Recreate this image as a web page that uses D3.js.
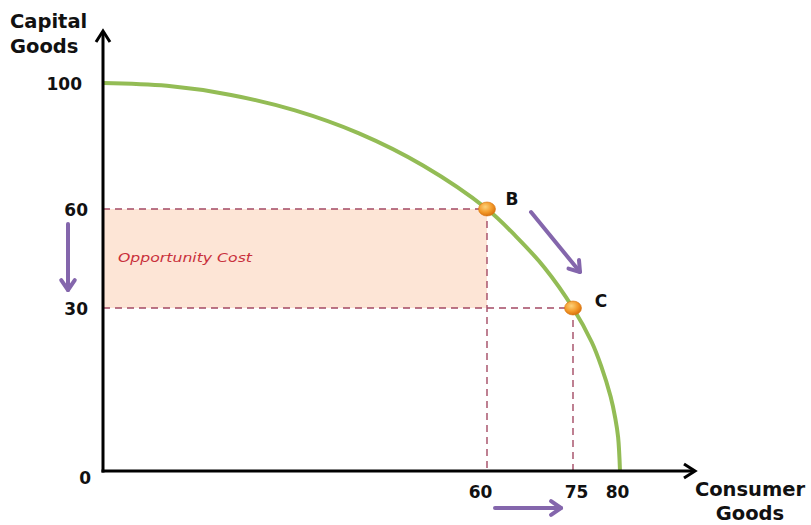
<!DOCTYPE html>
<html>
<head>
<meta charset="utf-8">
<script src="https://cdn.jsdelivr.net/npm/d3@7"></script>
<style>
  html, body { margin: 0; padding: 0; background: #fff; }
  svg { display: block; }
  .lbl { font-family: "DejaVu Sans", sans-serif; font-weight: 700; fill: #111; }
</style>
</head>
<body>
<svg id="chart" width="811" height="525"></svg>
<script>
// Production possibility frontier: consumer goods vs capital goods
const xTicks = [60, 75, 80];
const yTicks = [0, 30, 60, 100];
const frontierConsumer = [0, 10, 20, 30, 40, 50, 60, 65, 70, 75, 77, 78, 79, 79.5, 79.8, 80];
const frontierCapital  = [100, 99.1, 96.2, 91.3, 84.0, 73.8, 60, 51.8, 42.3, 30, 23.7, 19.3, 13.7, 9.7, 6.2, 0];
const pointNames = ["B", "C"];
const pointConsumer = [60, 75];
const pointCapital = [60, 30];
const yAxisTitle = ["Capital", "Goods"];
const xAxisTitle = ["Consumer", "Goods"];
const shadeLabel = "Opportunity Cost";

const svg = d3.select("#chart");

// Schematic (piecewise) scales
const x = d3.scaleLinear().domain([0, 60, 75, 80]).range([103, 487, 573, 620]);
const y = d3.scaleLinear().domain([0, 30, 60, 100]).range([471, 308, 209, 83]);
const x0 = x(0), y0 = y(0);

const defs = svg.append("defs");
const grad = defs.append("radialGradient").attr("id", "dot").attr("cx", "40%").attr("cy", "35%").attr("r", "65%");
grad.append("stop").attr("offset", "0%").attr("stop-color", "#fcd27a");
grad.append("stop").attr("offset", "60%").attr("stop-color", "#f39a2a");
grad.append("stop").attr("offset", "100%").attr("stop-color", "#d9730f");

// Opportunity cost band between the two points
svg.append("rect")
  .attr("x", x0).attr("y", y(pointCapital[0]))
  .attr("width", x(pointConsumer[0]) - x0)
  .attr("height", y(pointCapital[1]) - y(pointCapital[0]))
  .attr("fill", "#fde5d6");

svg.append("text")
  .attr("x", x0 + 15).attr("y", (y(pointCapital[0]) + y(pointCapital[1])) / 2 + 3)
  .attr("font-family", "'DejaVu Sans', sans-serif")
  .attr("font-style", "italic")
  .attr("font-size", 12)
  .attr("fill", "#c9303c")
  .attr("textLength", 134)
  .attr("lengthAdjust", "spacingAndGlyphs")
  .text(shadeLabel);

// Dashed guides to the axes
const guides = svg.append("g").attr("stroke", "#a44a64").attr("stroke-width", 1.4).attr("stroke-dasharray", "7,5");
pointConsumer.forEach((c, i) => {
  guides.append("line").attr("x1", x0).attr("x2", x(c)).attr("y1", y(pointCapital[i])).attr("y2", y(pointCapital[i]));
  guides.append("line").attr("x1", x(c)).attr("x2", x(c)).attr("y1", y(pointCapital[i])).attr("y2", y0);
});

// Frontier curve
const frontier = frontierConsumer.map((c, i) => [c, frontierCapital[i]]);
svg.append("path")
  .datum(frontier)
  .attr("fill", "none")
  .attr("stroke", "#93bc55")
  .attr("stroke-width", 4)
  .attr("d", d3.line().x(d => x(d[0])).y(d => y(d[1])).curve(d3.curveCatmullRom.alpha(0.5)));

// Axes with arrow heads
const axes = svg.append("g").attr("stroke", "#000").attr("fill", "none").attr("stroke-width", 3);
axes.append("line").attr("x1", x0).attr("x2", x0).attr("y1", y0 + 1.5).attr("y2", 32);
axes.append("line").attr("x1", x0 - 1.5).attr("x2", 694).attr("y1", y0).attr("y2", y0);
axes.append("path").attr("d", `M${x0 - 7},${42} L${x0},${31} L${x0 + 7},${42}`).attr("stroke-linejoin", "miter");
axes.append("path").attr("d", `M${684},${y0 - 7} L${695},${y0} L${684},${y0 + 7}`).attr("stroke-linejoin", "miter");

// Tick labels
const yShift = { 0: "translate(3,6)", 100: "translate(-6,0)" };
const yAxis = svg.append("g").attr("transform", `translate(${x0 - 15},0)`)
  .call(d3.axisLeft(y).tickValues(yTicks).tickSize(0).tickPadding(0));
yAxis.select(".domain").remove();
yAxis.selectAll("text").attr("class", "lbl").attr("font-size", 17).attr("dy", "0.36em")
  .attr("transform", d => yShift[d] || null);

const xShift = { 60: -7, 75: 3, 80: -3 };
const xAxis = svg.append("g").attr("transform", `translate(0,${y0 + 27})`)
  .call(d3.axisBottom(x).tickValues(xTicks).tickSize(0).tickPadding(0));
xAxis.select(".domain").remove();
xAxis.selectAll("text").attr("class", "lbl").attr("font-size", 17).attr("dy", 0)
  .attr("transform", d => `translate(${xShift[d] || 0},0)`);

// Axis titles
svg.append("text").attr("class", "lbl").attr("font-size", 19.5)
  .selectAll("tspan").data(yAxisTitle).join("tspan")
  .attr("x", 10).attr("y", (d, i) => 28 + i * 25).text(d => d);
svg.append("text").attr("class", "lbl").attr("font-size", 19.5).attr("text-anchor", "middle")
  .selectAll("tspan").data(xAxisTitle).join("tspan")
  .attr("x", 750).attr("y", (d, i) => 496 + i * 23.5).text(d => d);

// Points on the frontier
const labelOffset = [[25, -10], [28, -7]];
pointConsumer.forEach((c, i) => {
  svg.append("ellipse").attr("cx", x(c)).attr("cy", y(pointCapital[i]))
    .attr("rx", 8.5).attr("ry", 7).attr("fill", "url(#dot)")
    .attr("stroke", "#d9730f").attr("stroke-width", 0.6);
  svg.append("text").attr("class", "lbl").attr("font-size", 17).attr("text-anchor", "middle")
    .attr("x", x(c) + labelOffset[i][0]).attr("y", y(pointCapital[i]) + labelOffset[i][1] + 6)
    .text(pointNames[i]);
});

// Direction arrows (purple)
const arrows = svg.append("g").attr("stroke", "#8466ac").attr("stroke-width", 4).attr("fill", "none")
  .attr("stroke-linecap", "round").attr("stroke-linejoin", "round");
function arrow(xa, ya, xb, yb) {
  const ang = Math.atan2(yb - ya, xb - xa), h = 12, s = 0.6;
  arrows.append("line").attr("x1", xa).attr("y1", ya).attr("x2", xb).attr("y2", yb);
  arrows.append("path").attr("d",
    `M${xb - h * Math.cos(ang - s)},${yb - h * Math.sin(ang - s)} L${xb},${yb} L${xb - h * Math.cos(ang + s)},${yb - h * Math.sin(ang + s)}`);
}
arrow(68, 224, 68, 290);
arrow(531, 212, 580, 272);
arrow(495, 508, 561, 508);
</script>
</body>
</html>
